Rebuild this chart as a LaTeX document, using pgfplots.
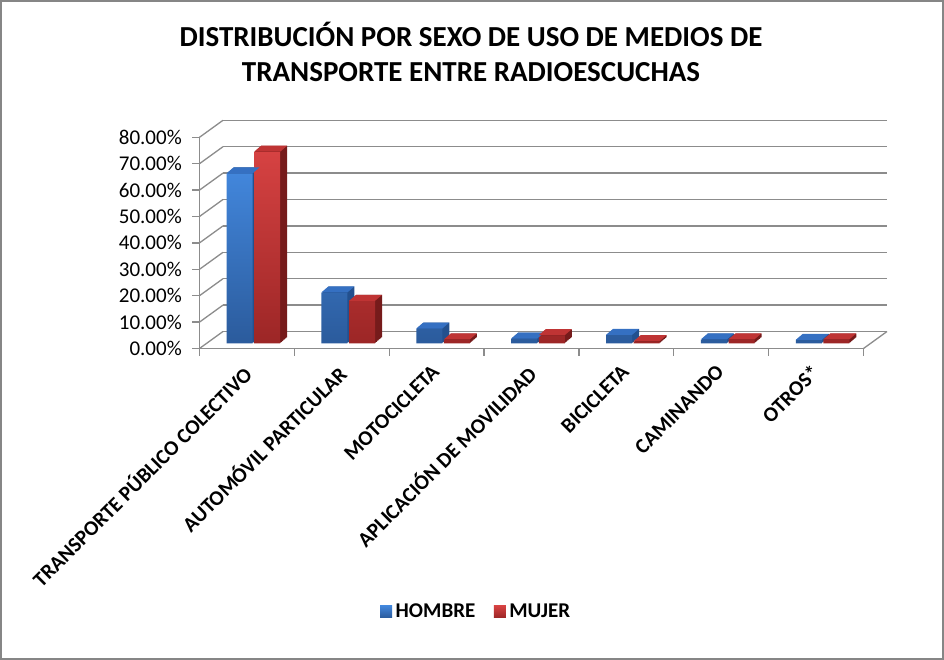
\documentclass[border=0pt]{standalone}
\usepackage{fontspec}
\setmainfont{Carlito}
\usepackage{pgfplots}
\usepackage{pgfplotstable}
\pgfplotsset{compat=1.18}

\definecolor{gridgray}{HTML}{8C8C8C}
\definecolor{framegray}{HTML}{868686}
\definecolor{bluetop}{HTML}{4286DB}
\definecolor{bluebot}{HTML}{2B5B9C}
\definecolor{blueside}{HTML}{23508E}
\definecolor{bluecap}{HTML}{3570C2}
\definecolor{redtop}{HTML}{D64242}
\definecolor{redbot}{HTML}{9C2626}
\definecolor{redside}{HTML}{761B1B}
\definecolor{redcap}{HTML}{BF3434}

\pgfplotstableread{
x h m
0.5 64.4 72.6
1.5 19.3 16.1
2.5 5.6 1.5
3.5 1.8 3.1
4.5 3.2 0.8
5.5 1.5 1.5
6.5 1.3 1.5
}\datatable

\pgfplotsset{common/.style={scale only axis, width=664pt, height=211.2pt,
  xmin=0, xmax=7, ymin=0, ymax=80, anchor=south west}}

\newcommand{\capblue}{\tikz{\fill[bluecap] (-13pt,0pt)--(13pt,0pt)--(20pt,6pt)--(-6pt,6pt)--cycle;}}
\newcommand{\capred}{\tikz{\fill[redcap] (-13pt,0pt)--(13pt,0pt)--(20pt,6pt)--(-6pt,6pt)--cycle;}}

\begin{document}
\begin{tikzpicture}[x=1pt,y=1pt]
\path[use as bounding box] (0,0) rectangle (944,660);
\fill[white] (0,0) rectangle (944,660);
\draw[framegray, line width=2pt] (1,1) rectangle (943,659);

\node[font=\bfseries\fontsize{29}{35}\selectfont, align=center] at (471,608)
  {DISTRIBUCIÓN POR SEXO DE USO DE MEDIOS DE\\TRANSPORTE ENTRE RADIOESCUCHAS};

% back wall
\begin{axis}[common, at={(223pt,328.5pt)}, axis line style={draw=none},
  xtick=\empty, ytick={0,10,...,80}, yticklabels={}, major tick length=0pt,
  ymajorgrids, grid style={gridgray, line width=1.3pt}]
\end{axis}

\foreach \v in {0,10,...,80}
  \draw[gridgray, line width=1.3pt] (199.5,{311.5+2.64*\v}) -- (223,{328.5+2.64*\v});
\draw[gridgray, line width=1.3pt] (863.5,311.5) -- (887,328.5);

% bars
\begin{axis}[common, at={(206pt,316.5pt)}, hide axis, ybar, bar width=26pt,
  legend style={draw=none, fill=none, at={(0.408,-1.27)}, anchor=center,
    legend columns=2, font=\bfseries\fontsize{21}{24}\selectfont,
    nodes={inner xsep=3.5pt, inner ysep=1pt},
    /tikz/every even column/.append style={column sep=15pt}},
  legend cell align=left]
\pgfplotsinvokeforeach{1,...,8}{
\addplot[bar shift=-13.8pt, fill=blueside, draw=none, xshift={#1*0.875pt}, yshift={#1*0.75pt}, forget plot]
  table[x=x,y=h]{\datatable};
}
\addplot[bar shift=-13.8pt, draw=none, top color=bluetop, bottom color=bluebot,
  legend image code/.code={\fill[top color=bluetop, bottom color=bluebot] (0pt,-6pt) rectangle (12pt,6pt);}]
  table[x=x,y=h]{\datatable};
\addlegendentry{HOMBRE}
\addplot[bar shift=-13.8pt, draw=none, fill=none, forget plot,
  nodes near coords={\capblue},
  every node near coord/.append style={inner sep=0pt, anchor=south, xshift=3.5pt}]
  table[x=x,y=h]{\datatable};
\pgfplotsinvokeforeach{1,...,8}{
\addplot[bar shift=13.8pt, fill=redside, draw=none, xshift={#1*0.875pt}, yshift={#1*0.75pt}, forget plot]
  table[x=x,y=m]{\datatable};
}
\addplot[bar shift=13.8pt, draw=none, top color=redtop, bottom color=redbot,
  legend image code/.code={\fill[top color=redtop, bottom color=redbot] (0pt,-6pt) rectangle (12pt,6pt);}]
  table[x=x,y=m]{\datatable};
\addlegendentry{MUJER}
\addplot[bar shift=13.8pt, draw=none, fill=none, forget plot,
  nodes near coords={\capred},
  every node near coord/.append style={inner sep=0pt, anchor=south, xshift=3.5pt}]
  table[x=x,y=m]{\datatable};
\end{axis}

% front axis
\begin{axis}[common, at={(199.5pt,311.5pt)},
  axis x line*=bottom, axis y line*=left,
  axis line style={gridgray, line width=1.3pt},
  tick style={gridgray, line width=1.3pt}, tick align=outside,
  major tick length=7.5pt, minor tick length=7.5pt,
  ytick={0,10,...,80},
  yticklabel={\pgfmathprintnumber[assume math mode=true,fixed,fixed zerofill,precision=2]{\tick}\%},
  yticklabel style={font=\fontsize{21}{24}\selectfont, anchor=east, inner sep=0pt, xshift=-10pt},
  xtick={0.5,1.5,...,6.5}, minor xtick={0,1,...,7},
  major x tick style={draw=none},
  xticklabels={TRANSPORTE PÚBLICO COLECTIVO, AUTOMÓVIL PARTICULAR, MOTOCICLETA,
    APLICACIÓN DE MOVILIDAD, BICICLETA, CAMINANDO, OTROS*},
  xticklabel style={anchor=north east, inner sep=0pt,
    font=\bfseries\fontsize{21}{24}\selectfont, xshift=-6pt, yshift=-7.5pt, rotate=45}]
\end{axis}
\end{tikzpicture}
\end{document}
